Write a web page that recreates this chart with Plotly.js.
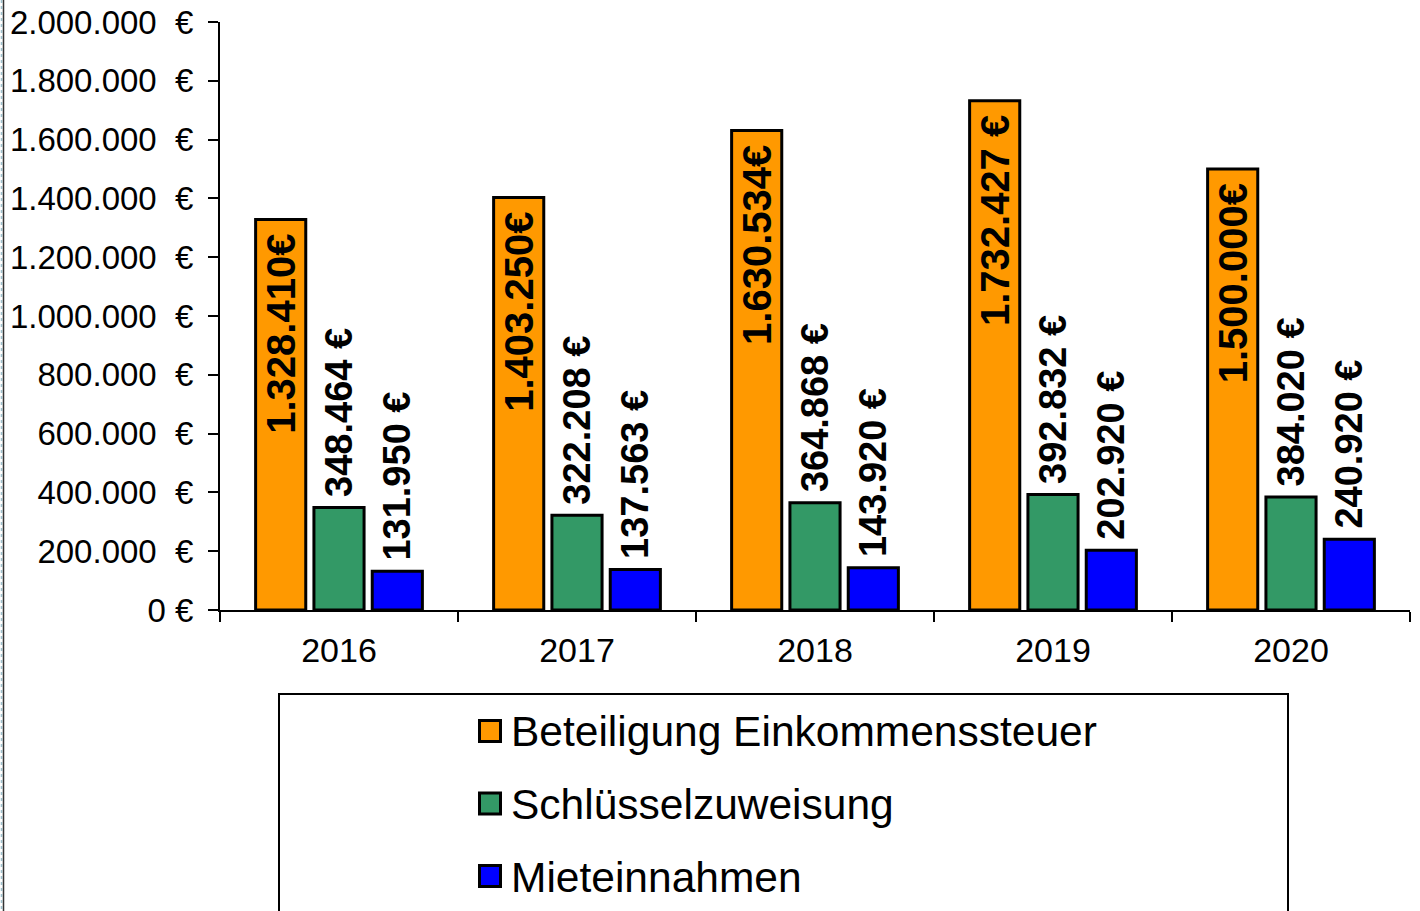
<!DOCTYPE html>
<html>
<head>
<meta charset="utf-8">
<script src="https://cdn.plot.ly/plotly-3.0.1.min.js"></script>
<style>
  html, body { margin: 0; padding: 0; background: #ffffff; }
  #chart { width: 1420px; height: 911px; }
</style>
</head>
<body>
<div id="chart"></div>
<script>
// ---- data ----
const years = ['2016', '2017', '2018', '2019', '2020'];
const seriesNames = ['Beteiligung Einkommenssteuer', 'Schlüsselzuweisung', 'Mieteinnahmen'];
const einkommenssteuer = [1328410, 1403250, 1630534, 1732427, 1500000];
const schluesselzuweisung = [348464, 322208, 364868, 392832, 384020];
const mieteinnahmen = [131950, 137563, 143920, 202920, 240920];
const einkommenssteuerSuffix = ['€', '€', '€', ' €', '€'];
const yTickValues = [0, 200000, 400000, 600000, 800000, 1000000, 1200000, 1400000, 1600000, 1800000, 2000000];
const seriesColors = ['#FF9900', '#339966', '#0000FF'];

// ---- helpers ----
function fmt(v) {
  return String(Math.round(v)).replace(/\B(?=(\d{3})+(?!\d))/g, '.');
}
const W = 1420, H = 911;
const M = { l: 220, r: 10, t: 22, b: 301 };
const PW = W - M.l - M.r, PH = H - M.t - M.b;
const px = x => (x - M.l) / PW;
const py = y => (H - M.b - y) / PH;

const FONT = 'Liberation Sans, Arial, sans-serif';
const NB = '\u00A0';
const SP = '\u2009';

const labelsOrange = einkommenssteuer.map((v, i) => fmt(v) + einkommenssteuerSuffix[i] + NB);
const labelsGreen = schluesselzuweisung.map(v => SP + fmt(v) + ' €');
const labelsBlue = mieteinnahmen.map(v => SP + fmt(v) + ' €');
const yTickText = yTickValues.map(v => v === 0 ? '0 €' : fmt(v) + NB + NB + '€');

const common = {
  type: 'bar',
  x: years,
  textangle: -90,
  constraintext: 'none',
  cliponaxis: false,
  showlegend: false,
  hoverinfo: 'skip'
};

const traces = [
  Object.assign({}, common, {
    name: seriesNames[0], y: einkommenssteuer, text: labelsOrange,
    textposition: 'inside', insidetextanchor: 'end',
    insidetextfont: { family: FONT, size: 40, color: '#000000', weight: 'bold' },
    marker: { color: seriesColors[0], line: { color: '#000000', width: 3 } }
  }),
  Object.assign({}, common, {
    name: seriesNames[1], y: schluesselzuweisung, text: labelsGreen,
    textposition: 'outside',
    outsidetextfont: { family: FONT, size: 38, color: '#000000', weight: 'bold' },
    marker: { color: seriesColors[1], line: { color: '#000000', width: 3 } }
  }),
  Object.assign({}, common, {
    name: seriesNames[2], y: mieteinnahmen, text: labelsBlue,
    textposition: 'outside',
    outsidetextfont: { family: FONT, size: 38, color: '#000000', weight: 'bold' },
    marker: { color: seriesColors[2], line: { color: '#000000', width: 3 } }
  })
];

// ---- manual legend ----
const shapes = [
  { type: 'rect', xref: 'paper', yref: 'paper', x0: px(279), x1: px(1288), y0: py(915), y1: py(694),
    line: { color: '#000000', width: 2 }, fillcolor: 'rgba(0,0,0,0)', layer: 'below' },
  { type: 'line', xref: 'paper', yref: 'paper', x0: px(1.5), x1: px(1.5), y0: py(0), y1: py(911),
    line: { color: '#9fc3cf', width: 1.5, dash: 'dot' } },
  { type: 'line', xref: 'paper', yref: 'paper', x0: px(3.5), x1: px(3.5), y0: py(0), y1: py(911),
    line: { color: '#333333', width: 1.5 } }
];
const annotations = [];
const legendRowsY = [731, 803.5, 876];
seriesNames.forEach((n, i) => {
  const cy = legendRowsY[i];
  shapes.push({ type: 'rect', xref: 'paper', yref: 'paper',
    x0: px(479.5), x1: px(500.5), y0: py(cy + 10.5), y1: py(cy - 10.5),
    fillcolor: seriesColors[i], line: { color: '#000000', width: 3 } });
  annotations.push({ xref: 'paper', yref: 'paper', x: px(509), y: py(cy + 1),
    xanchor: 'left', yanchor: 'middle', showarrow: false, text: n,
    font: { family: FONT, size: 42.5, color: '#000000' } });
});

const layout = {
  width: W, height: H,
  margin: M,
  paper_bgcolor: '#ffffff', plot_bgcolor: '#ffffff',
  barmode: 'group',
  bargap: 0.265,
  bargroupgap: 0.14,
  font: { family: FONT, color: '#000000' },
  xaxis: {
    type: 'category',
    showline: true, linecolor: '#000000', linewidth: 2,
    ticks: 'outside', tickson: 'boundaries', ticklen: 10, tickwidth: 2, tickcolor: '#000000',
    tickfont: { family: FONT, size: 34, color: '#000000' },
    ticklabelstandoff: 9,
    showgrid: false, zeroline: false, fixedrange: true
  },
  yaxis: {
    range: [0, 2000000],
    tickmode: 'array', tickvals: yTickValues, ticktext: yTickText,
    showline: true, linecolor: '#000000', linewidth: 2,
    ticks: 'outside', ticklen: 10, tickwidth: 2, tickcolor: '#000000',
    tickfont: { family: FONT, size: 33, color: '#000000' },
    ticklabelstandoff: 8,
    showgrid: false, zeroline: false, fixedrange: true
  },
  shapes: shapes,
  annotations: annotations
};

Plotly.newPlot('chart', traces, layout, { displayModeBar: false, staticPlot: true });
</script>
</body>
</html>
